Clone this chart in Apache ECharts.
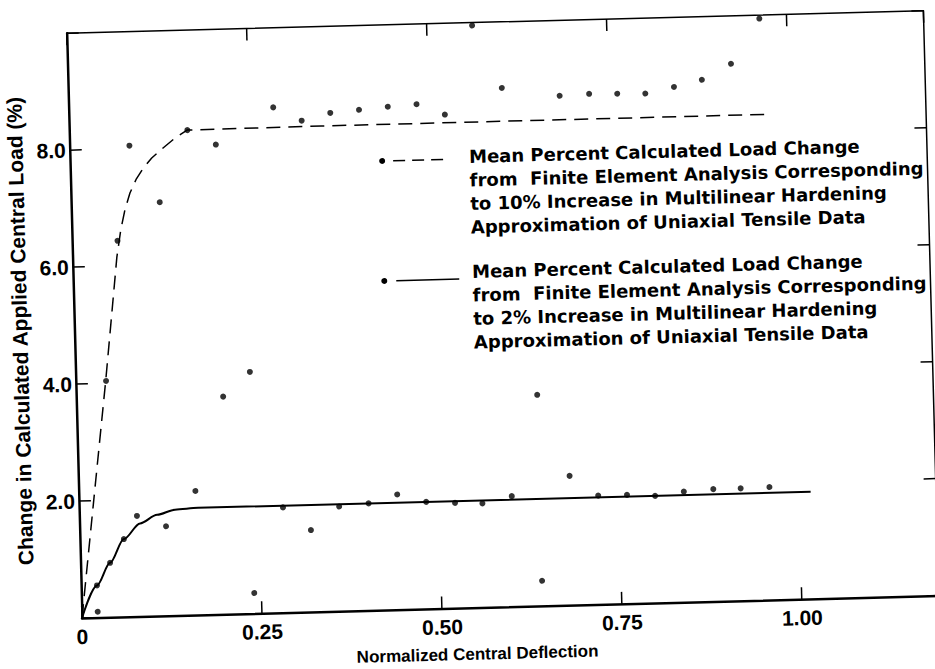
<!DOCTYPE html>
<html><head><meta charset="utf-8">
<script src="https://cdn.jsdelivr.net/npm/echarts/dist/echarts.min.js"></script>
<style>
html,body{margin:0;padding:0;background:#fff;overflow:hidden;width:935px;height:669px;}
#chart{position:absolute;left:0;top:0;width:990px;height:720px;transform-origin:82px 618px;transform:rotate(-1.5deg);}
</style></head><body><div id="chart"></div>
<script>
// tick labels
const xTickValues = [0, 0.25, 0.5, 0.75, 1.0];
const xTickLabels = ['0', '0.25', '0.50', '0.75', '1.00'];
const yTickValues = [2, 4, 6, 8];
const yTickLabels = ['2.0', '4.0', '6.0', '8.0'];

// individual points, 10% case
const pts10X = [0.042, 0.063, 0.083, 0.123, 0.164, 0.203, 0.204, 0.242, 0.284, 0.323, 0.363, 0.403, 0.443, 0.483, 0.522, 0.563, 0.602, 0.640, 0.682, 0.723, 0.762, 0.801, 0.841, 0.880, 0.921, 0.962];
const pts10Y = [4.04, 6.43, 8.05, 7.07, 8.29, 8.03, 3.72, 4.13, 8.64, 8.40, 8.52, 8.56, 8.60, 8.63, 8.44, 9.95, 8.87, 3.61, 8.71, 8.73, 8.72, 8.71, 8.81, 8.92, 9.18, 9.94];
// individual points, 2% case
const pts2X = [0.022, 0.022, 0.041, 0.061, 0.080, 0.120, 0.162, 0.240, 0.283, 0.321, 0.361, 0.402, 0.442, 0.482, 0.522, 0.560, 0.601, 0.640, 0.682, 0.721, 0.761, 0.800, 0.840, 0.881, 0.919, 0.959];
const pts2Y = [0.55, 0.10, 0.93, 1.33, 1.72, 1.53, 2.12, 0.35, 1.80, 1.40, 1.79, 1.83, 1.97, 1.83, 1.80, 1.78, 1.89, 0.43, 2.21, 1.86, 1.86, 1.83, 1.89, 1.92, 1.92, 1.93];
// mean curves
const mean10X = [0, 0.02, 0.0415, 0.053, 0.0615, 0.068, 0.0745, 0.082, 0.091, 0.1015, 0.1135, 0.130, 0.1466, 0.1636, 0.35, 0.976];
const mean10Y = [0, 1.95, 4.04, 5.25, 6.15, 6.62, 6.96, 7.24, 7.47, 7.66, 7.83, 8.0, 8.16, 8.29, 8.3, 8.3];
const mean2X = [0, 0.022, 0.041, 0.061, 0.084, 0.108, 0.133, 0.165, 1.016];
const mean2Y = [0, 0.55, 0.93, 1.33, 1.59, 1.73, 1.81, 1.83, 1.83];

const legend10Lines = ['Mean Percent Calculated Load Change', 'from  Finite Element Analysis Corresponding', 'to 10% Increase in Multilinear Hardening', 'Approximation of Uniaxial Tensile Data'];
const legend2Lines = ['Mean Percent Calculated Load Change', 'from  Finite Element Analysis Corresponding', 'to 2% Increase in Multilinear Hardening', 'Approximation of Uniaxial Tensile Data'];

const zip = (xs, ys) => xs.map((x, i) => [x, ys[i]]);
const labelFont = {color: '#000', fontFamily: '"Liberation Sans", Arial, sans-serif', fontWeight: 'bold', fontSize: 21};
const legendFont = 'bold 18px "DejaVu Sans", sans-serif';

const chart = echarts.init(document.getElementById('chart'), null, {renderer: 'svg'});
const tickStyle = {show: true, inside: true, length: 12, lineStyle: {color: '#000', width: 1.5}};

chart.setOption({
  animation: false,
  backgroundColor: '#fff',
  grid: {left: 82, top: 33, width: 857, height: 585},
  xAxis: [{
    type: 'value', min: 0, max: 1.19, interval: 0.25, position: 'bottom',
    axisLine: {onZero: false, lineStyle: {color: '#000', width: 2.5}},
    axisTick: tickStyle,
    splitLine: {show: false},
    axisLabel: Object.assign({margin: 8, showMaxLabel: false, formatter: v => {
      const i = xTickValues.findIndex(t => Math.abs(t - v) < 1e-6); return i >= 0 ? xTickLabels[i] : '';
    }}, labelFont),
    name: 'Normalized Central Deflection', nameLocation: 'middle', nameGap: 38,
    nameTextStyle: {color: '#000', fontFamily: '"Liberation Sans", Arial, sans-serif', fontWeight: 'bold', fontSize: 17, padding: [0, 68, 0, 0]}
  }, {
    type: 'value', min: 0, max: 1.19, interval: 0.25, position: 'top',
    axisLine: {onZero: false, lineStyle: {color: '#000', width: 1.5}},
    axisTick: tickStyle, axisLabel: {show: false}, splitLine: {show: false}
  }],
  yAxis: [{
    type: 'value', min: 0, max: 10, interval: 2, position: 'left',
    axisLine: {show: true, onZero: false, lineStyle: {color: '#000', width: 2.5}},
    axisTick: tickStyle,
    splitLine: {show: false},
    axisLabel: Object.assign({margin: 4, formatter: v => {
      const i = yTickValues.findIndex(t => Math.abs(t - v) < 1e-6); return i >= 0 ? yTickLabels[i] : '';
    }}, labelFont),
    name: 'Change in Calculated Applied Central Load (%)', nameLocation: 'middle', nameGap: 42,
    nameTextStyle: {color: '#000', fontFamily: '"Liberation Sans", Arial, sans-serif', fontWeight: 'bold', fontSize: 21, padding: [0, 8, 0, 0]}
  }, {
    type: 'value', min: 0, max: 10, interval: 2, position: 'right',
    axisLine: {show: true, onZero: false, lineStyle: {color: '#000', width: 1.5}},
    axisTick: tickStyle, axisLabel: {show: false}, splitLine: {show: false}
  }],
  series: [
    {type: 'line', data: zip(mean10X, mean10Y), showSymbol: false, smooth: false,
     lineStyle: {color: '#000', width: 1.5, type: [14, 8]}, z: 2},
    {type: 'line', data: zip(mean2X, mean2Y), showSymbol: false, smooth: 0.3, smoothMonotone: 'x',
     lineStyle: {color: '#000', width: 2}, z: 2},
    {type: 'scatter', data: zip(pts10X, pts10Y), symbol: 'circle', symbolSize: 6, itemStyle: {color: '#000'}, z: 3},
    {type: 'scatter', data: zip(pts2X, pts2Y), symbol: 'circle', symbolSize: 6, itemStyle: {color: '#000'}, z: 3}
  ],
  graphic: [
    {type: 'circle', shape: {cx: 394, cy: 169, r: 3}, style: {fill: '#000'}},
    {type: 'line', shape: {x1: 405, y1: 169, x2: 456, y2: 169}, style: {stroke: '#000', lineWidth: 1.5, lineDash: [12, 7]}},
    {type: 'text', x: 481, y: 155, style: {text: legend10Lines.join('\n'), font: legendFont, lineHeight: 23.5, fill: '#000'}},
    {type: 'circle', shape: {cx: 393, cy: 289, r: 3}, style: {fill: '#000'}},
    {type: 'line', shape: {x1: 405, y1: 289, x2: 468, y2: 289}, style: {stroke: '#000', lineWidth: 1.5}},
    {type: 'text', x: 481, y: 270, style: {text: legend2Lines.join('\n'), font: legendFont, lineHeight: 23.5, fill: '#000'}}
  ]
});
</script></body></html>
